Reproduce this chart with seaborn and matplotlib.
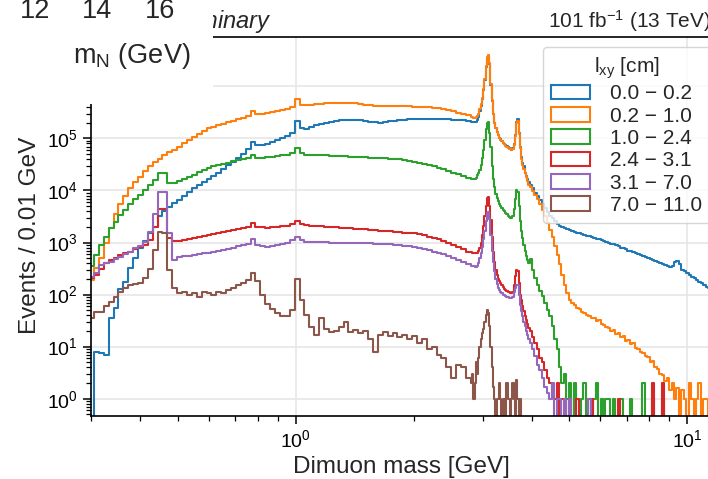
import numpy as np
import pandas as pd
import matplotlib
matplotlib.use("Agg")
import matplotlib.pyplot as plt
from matplotlib.patches import Patch, Rectangle
from matplotlib.ticker import NullFormatter
import seaborn as sns

# ---------------- binning ----------------
# log bins, 80 per decade below 2.67 GeV, 4x finer around J/psi and psi(2S),
# 2x finer in the high-mass tail
bin_index = np.concatenate([np.arange(0, 78, 1.0),
                            np.arange(78, 90, 0.25),
                            np.arange(90, 128.01, 0.5)])
edges = 0.2966 * 10 ** (bin_index / 80.0)

# ---------------- data ----------------
lxy_labels = ["0.0 \u2212 0.2", "0.2 \u2212 1.0", "1.0 \u2212 2.4",
              "2.4 \u2212 3.1", "3.1 \u2212 7.0", "7.0 \u2212 11.0"]

blue = [
    # coarse 0.30 - 2.67 GeV
    0, 8, 7.5, 7, 36, 55, 130, 175, 320, 500,
    780, 1050, 1550, 2000, 3300, 4000, 4900, 5700, 6700, 8000,
    9500, 1.1e4, 1.27e4, 1.45e4, 1.65e4, 1.9e4, 2.2e4, 2.6e4, 3.1e4, 3.6e4,
    4.3e4, 5.1e4, 6.2e4, 8.7e4, 7.6e4, 7.5e4, 7.9e4, 8.5e4, 9.3e4, 1.02e5,
    1.12e5, 1.3e5, 2.2e5, 1.6e5, 1.55e5, 1.65e5, 1.78e5, 1.9e5, 2.0e5, 2.1e5,
    2.18e5, 2.23e5, 2.26e5, 2.27e5, 2.26e5, 2.22e5, 2.16e5, 2.1e5, 2.04e5, 2.02e5,
    2.05e5, 2.12e5, 2.18e5, 2.24e5, 2.3e5, 2.35e5, 2.38e5, 2.4e5, 2.4e5, 2.4e5,
    2.38e5, 2.36e5, 2.35e5, 2.32e5, 2.3e5, 2.27e5, 2.22e5, 2.15e5,
    # fine, J/psi and psi(2S)
    2.1e5, 2.08e5, 2.05e5, 2.05e5, 2.1e5, 2.25e5, 2.6e5, 3.3e5, 4.2e5, 5.7e5,
    8.7e5, 1.35e6, 2.4e6, 3.5e6, 3.9e6, 2.7e6, 1.05e6, 5.3e5, 2.9e5, 1.95e5,
    1.58e5, 1.34e5, 1.15e5, 1.03e5, 9.6e4, 8.9e4, 8.3e4, 7.8e4, 7.4e4, 7.1e4,
    6.8e4, 6.5e4, 6.3e4, 6.1e4, 6.5e4, 7.8e4, 1.15e5, 2.1e5, 2.4e5, 1.3e5,
    7.0e4, 4.4e4, 3.4e4, 2.9e4, 2.2e4, 1.9e4, 1.65e4, 1.45e4,
    # tail
    1.3e4, 1.1e4, 9.0e3, 7.8e3, 6.6e3, 5.6e3, 4.6e3, 3.9e3, 3.3e3, 2.9e3,
    2.55e3, 2.3e3, 2.1e3, 1.98e3, 1.88e3, 1.8e3, 1.72e3, 1.67e3, 1.6e3, 1.55e3,
    1.5e3, 1.45e3, 1.4e3, 1.36e3, 1.32e3, 1.27e3, 1.22e3, 1.18e3, 1.15e3, 1.1e3,
    1.07e3, 1.03e3, 990, 950, 920, 880, 840, 800, 770, 740,
    700, 680, 650, 620, 600, 570, 550, 520, 500, 480,
    460, 440, 420, 405, 390, 375, 360, 345, 360, 420,
    440, 380, 300, 280, 260, 240, 220, 205, 190, 178,
    165, 152, 142, 132, 125, 118]

orange = [
    190, 320, 500, 980, 1900, 3500, 5500, 7800, 1.1e4, 1.45e4,
    1.8e4, 2.35e4, 2.9e4, 3.5e4, 4.1e4, 4.8e4, 5.5e4, 6.1e4, 7.0e4, 8.0e4,
    9.2e4, 1.05e5, 1.22e5, 1.4e5, 1.57e5, 1.65e5, 1.8e5, 1.9e5, 2.05e5, 2.2e5,
    2.35e5, 2.5e5, 2.75e5, 3.35e5, 2.95e5, 3.0e5, 3.05e5, 3.2e5, 3.35e5, 3.5e5,
    3.7e5, 4.1e5, 5.8e5, 4.4e5, 4.3e5, 4.4e5, 4.5e5, 4.6e5, 4.7e5, 4.8e5,
    4.85e5, 4.86e5, 4.85e5, 4.8e5, 4.73e5, 4.6e5, 4.45e5, 4.35e5, 4.25e5, 4.2e5,
    4.2e5, 4.2e5, 4.2e5, 4.2e5, 4.2e5, 4.15e5, 4.1e5, 4.07e5, 4.0e5, 3.95e5,
    3.85e5, 3.8e5, 3.68e5, 3.5e5, 3.35e5, 3.1e5, 2.95e5, 2.8e5,
    2.6e5, 2.55e5, 2.5e5, 2.5e5, 2.55e5, 2.7e5, 3.0e5, 3.7e5, 4.5e5, 6.0e5,
    9.0e5, 1.4e6, 2.5e6, 3.6e6, 4.1e6, 2.8e6, 1.1e6, 5.5e5, 3.0e5, 2.0e5,
    1.6e5, 1.35e5, 1.15e5, 1.02e5, 9.5e4, 8.8e4, 8.2e4, 7.7e4, 7.3e4, 7.0e4,
    6.7e4, 6.4e4, 6.2e4, 6.0e4, 6.3e4, 7.5e4, 1.1e5, 2.0e5, 2.2e5, 1.2e5,
    6.5e4, 4.0e4, 3.1e4, 2.6e4, 2.2e4, 1.85e4, 1.55e4, 1.3e4,
    1.15e4, 9.8e3, 8.2e3, 6.8e3, 5.5e3, 4.2e3, 3.2e3, 2.4e3, 1.75e3, 1.25e3,
    850, 580, 380, 240, 150, 105, 80, 68, 62, 55,
    52, 47, 45, 40, 39, 35, 36, 31, 32, 27,
    26, 24, 23, 20, 21, 17.5, 18, 15, 16, 13,
    13.5, 11, 11.5, 9.5, 9, 8, 7.5, 6.5, 6.2, 5,
    5.2, 4, 3.8, 3, 2.9, 2.2, 2.5, 1.5, 2, 1,
    1.6, 0, 1.5, 1, 0, 2, 1, 0, 1, 2,
    0, 1, 1, 0, 2, 1]

green = [
    360, 580, 900, 1300, 1900, 2500, 3400, 4200, 5600, 7000,
    8100, 1.0e4, 1.27e4, 1.6e4, 2.15e4, 2.15e4, 1.37e4, 1.37e4, 1.5e4, 1.65e4,
    1.8e4, 2.0e4, 2.25e4, 2.45e4, 2.65e4, 2.9e4, 3.1e4, 3.3e4, 3.45e4, 3.65e4,
    3.85e4, 4.05e4, 4.2e4, 4.8e4, 4.3e4, 4.3e4, 4.4e4, 4.5e4, 4.6e4, 4.75e4,
    4.9e4, 5.3e4, 6.5e4, 5.3e4, 4.9e4, 4.85e4, 4.8e4, 4.8e4, 4.75e4, 4.7e4,
    4.65e4, 4.6e4, 4.55e4, 4.5e4, 4.45e4, 4.4e4, 4.35e4, 4.3e4, 4.25e4, 4.2e4,
    4.15e4, 4.1e4, 4.0e4, 3.95e4, 3.85e4, 3.75e4, 3.6e4, 3.45e4, 3.3e4, 3.15e4,
    2.95e4, 2.75e4, 2.55e4, 2.4e4, 2.2e4, 2.05e4, 1.9e4, 1.75e4,
    1.7e4, 1.65e4, 1.63e4, 1.65e4, 1.75e4, 1.95e4, 2.2e4, 2.5e4, 3.1e4, 4.2e4,
    6.0e4, 9.5e4, 1.5e5, 2.0e5, 2.05e5, 1.3e5, 7.0e4, 3.0e4, 1.7e4, 1.15e4,
    8.5e3, 7.2e3, 6.3e3, 5.6e3, 5.1e3, 4.7e3, 4.3e3, 4.0e3, 3.7e3, 3.5e3,
    3.3e3, 3.15e3, 3.0e3, 3.0e3, 3.3e3, 4.5e3, 7.0e3, 1.0e4, 9.5e3, 5.0e3,
    2.6e3, 1.7e3, 1.2e3, 900, 700, 560, 470, 400,
    480, 300, 210, 150, 115, 92, 70, 50, 38, 25,
    14, 9, 4, 2, 3, 1, 2, 0, 2, 1,
    0, 1, 2, 0, 1, 0, 1, 2, 0, 1,
    0, 1, 1, 0, 1, 0, 0, 1, 0, 0,
    0, 1, 0, 0, 0, 0, 2, 0, 0, 0,
    1, 0, 0, 0, 1, 0, 0, 0, 0, 0,
    0, 0, 0, 0, 0, 0, 0, 0, 0, 0,
    0, 0, 0, 0, 0, 0]

red = [
    211, 240, 317, 400, 460, 510, 576, 620, 670, 750,
    825, 890, 1120, 2000, 4400, 4400, 1200, 1050, 1080, 1120,
    1170, 1220, 1280, 1330, 1400, 1450, 1550, 1600, 1700, 1750,
    1850, 1900, 2000, 2350, 2000, 1950, 1920, 1950, 2000, 2050,
    2100, 2300, 2600, 2300, 2150, 2100, 2080, 2050, 2000, 1980,
    1950, 1920, 1900, 1880, 1850, 1820, 1800, 1760, 1720, 1700,
    1680, 1650, 1620, 1580, 1550, 1520, 1500, 1450, 1380, 1300,
    1220, 1150, 1080, 1000, 900, 820, 740, 670,
    650, 640, 630, 620, 620, 630, 680, 800, 1000, 1400,
    2100, 3200, 5000, 7300, 7500, 5000, 2700, 1300, 650, 420,
    300, 240, 200, 180, 165, 150, 140, 130, 124, 118,
    114, 110, 108, 106, 112, 150, 230, 300, 290, 170,
    100, 80, 60, 48, 38, 32, 27, 23,
    20, 15, 12, 9, 6, 5, 3.5, 2.5, 2, 1.5,
    1, 2, 0, 1, 1, 0, 1, 0, 0, 1,
    0, 0, 0, 0, 0, 1, 0, 0, 0, 0,
    0, 0, 0, 0, 0, 0, 1, 0, 0, 0,
    0, 0, 0, 0, 0, 0, 0, 0, 0, 0,
    2, 0, 0, 0, 2, 0, 0, 0, 0, 0,
    0, 0, 0, 0, 0, 0, 0, 0, 0, 0,
    0, 0, 0, 0, 0, 0]

purple = [
    220, 256, 370, 400, 430, 480, 535, 590, 670, 780,
    850, 1030, 1600, 3600, 9500, 9300, 1500, 470, 520, 540,
    560, 580, 600, 620, 640, 660, 690, 720, 760, 800,
    840, 880, 920, 1150, 900, 850, 830, 850, 880, 920,
    980, 1100, 1300, 1100, 1030, 1020, 1020, 1010, 1010, 1000,
    1000, 1000, 1000, 1000, 990, 980, 970, 960, 950, 940,
    930, 920, 900, 880, 860, 840, 820, 790, 750, 710,
    670, 630, 590, 550, 500, 460, 420, 380,
    360, 355, 350, 345, 345, 360, 410, 500, 620, 820,
    1150, 1700, 2600, 3700, 3900, 2800, 1400, 700, 420, 280,
    200, 160, 135, 120, 110, 105, 100, 97, 93, 90,
    88, 86, 85, 85, 90, 110, 135, 155, 150, 100,
    62, 48, 38, 30, 25, 20, 17, 14,
    12, 9, 6.5, 4.5, 3.5, 2.5, 1.7, 1.3, 1, 2,
    0, 1, 1, 0, 1, 0, 1, 0, 0, 0,
    0, 0, 0, 0, 1, 0, 0, 0, 0, 0,
    0, 0, 0, 0, 0, 0, 0, 0, 0, 0,
    0, 0, 0, 0, 0, 0, 0, 0, 0, 0,
    0, 0, 0, 0, 0, 0, 0, 0, 0, 0,
    0, 0, 0, 0, 0, 0, 0, 0, 0, 0,
    0, 0, 0, 0, 0, 0]

brown = [
    35, 47, 47, 60, 73, 91, 114, 132, 153, 158,
    165, 206, 317, 720, 1580, 1550, 300, 135, 105, 112,
    100, 108, 90, 110, 105, 100, 110, 108, 120, 135,
    150, 165, 190, 260, 180, 100, 65, 52, 44, 38,
    38, 50, 195, 80, 40, 24, 17, 35, 22, 19,
    20, 24, 30, 19, 21, 18, 20, 14, 8, 17,
    19, 16, 18, 15, 17, 14, 16, 12, 14, 9,
    10, 7, 6, 4, 2.5, 4.5, 4, 2.5,
    2, 3, 1, 2, 5, 3, 6, 10, 14, 18,
    22, 30, 40, 50, 45, 25, 10, 4, 1.7, 1,
    0, 1, 1, 2, 1, 0, 1, 1, 0, 2,
    1, 1, 0, 1, 2, 1, 0, 2.3, 1, 0,
    1, 0, 0, 0, 0, 0, 0, 0,
    0, 0, 0, 0, 0, 0, 0, 0, 0, 0,
    0, 0, 0, 0, 0, 0, 0, 0, 0, 0,
    0, 0, 0, 0, 0, 0, 0, 0, 0, 0,
    0, 0, 0, 0, 0, 0, 0, 0, 0, 0,
    0, 0, 0, 0, 0, 0, 0, 0, 0, 0,
    0, 0, 0, 0, 0, 0, 0, 0, 0, 0,
    0, 0, 0, 0, 0, 0, 0, 0, 0, 0,
    0, 0, 0, 0, 0, 0]

series = [blue, orange, green, red, purple, brown]
colors = ["#1f77b4", "#ff7f0e", "#2ca02c", "#d62728", "#9467bd", "#8c564b"]

# ---------------- style ----------------
sns.set_theme(style="ticks")
plt.rcParams["font.family"] = ["Liberation Sans", "DejaVu Sans"]
plt.rcParams["mathtext.fontset"] = "custom"
plt.rcParams["mathtext.rm"] = "Liberation Sans"
plt.rcParams["mathtext.it"] = "Liberation Sans:italic"
plt.rcParams["mathtext.bf"] = "Liberation Sans:bold"
plt.rcParams["axes.edgecolor"] = "black"
plt.rcParams["xtick.color"] = "black"
plt.rcParams["ytick.color"] = "black"

# step outlines in long form
frames = []
for lab, vals in zip(lxy_labels, series):
    vals = np.asarray(vals, dtype=float)
    assert len(vals) == len(edges) - 1, (lab, len(vals))
    xs = np.repeat(edges, 2)[1:-1]
    ys = np.repeat(vals, 2)
    frames.append(pd.DataFrame({"mass": xs, "events": ys, "lxy": lab}))
df = pd.concat(frames, ignore_index=True)

W, H = 708, 479
fig = plt.figure(figsize=(W / 100, H / 100), dpi=100)
ax = fig.add_axes([91 / W, (H - 415.7) / H, 620.1 / W, 378.4 / H])

sns.lineplot(data=df, x="mass", y="events", hue="lxy", hue_order=lxy_labels,
             palette=colors, estimator=None, sort=False, legend=False,
             linewidth=1.5, ax=ax)

ax.set_xscale("log")
ax.set_yscale("log")
ax.set_xlim(0.3, 11.5)
ax.set_ylim(0.471, 8.78e6)
ax.xaxis.set_minor_formatter(NullFormatter())
ax.grid(True, which="major", color="#e6e6e6", linewidth=1.2)
ax.set_axisbelow(True)
for s in ax.spines.values():
    s.set_linewidth(1.2)
ax.tick_params(which="major", direction="out", length=6, width=1.1, labelsize=14)
ax.tick_params(which="minor", direction="out", length=3.5, width=0.9)

ax.set_xlabel("Dimuon mass [GeV]", fontsize=17.5, labelpad=4)
ax.set_ylabel("Events / 0.01 GeV", fontsize=17.5)
ax.yaxis.set_label_coords(-0.081, 0.4775)

ax.set_title(r"$\bf{CMS}$ $\it{Preliminary}$", loc="left", fontsize=17, pad=7)
ax.set_title(r"101 fb$^{-1}$ (13 TeV)", loc="right", fontsize=15, pad=7)

handles = [Patch(facecolor="none", edgecolor=c, linewidth=1.5) for c in colors]
ax.legend(handles, lxy_labels, title=r"l$_{\mathrm{xy}}$ [cm]",
          loc="upper left", bbox_to_anchor=(0.729, 0.974), borderaxespad=0,
          fontsize=15, title_fontsize=15, labelspacing=0.16,
          handlelength=1.85, handletextpad=0.95, frameon=True)

# overlapping panel of a neighbouring figure (top-left corner)
fig.add_artist(Rectangle((0, 1 - 104 / H), 213 / W, 104 / H,
                         transform=fig.transFigure, facecolor="white",
                         edgecolor="none", zorder=2))
for t, xp in zip(["12", "14", "16"], [35, 97, 160]):
    fig.text(xp / W, 1 - 18.3 / H, t, ha="center", va="baseline",
             fontsize=19.5, zorder=3)
fig.text(132 / W, 1 - 63.3 / H, r"m$_{\mathrm{N}}$ (GeV)", ha="center",
         va="baseline", fontsize=19.5, zorder=3)

fig.savefig("out.png", dpi=100)
